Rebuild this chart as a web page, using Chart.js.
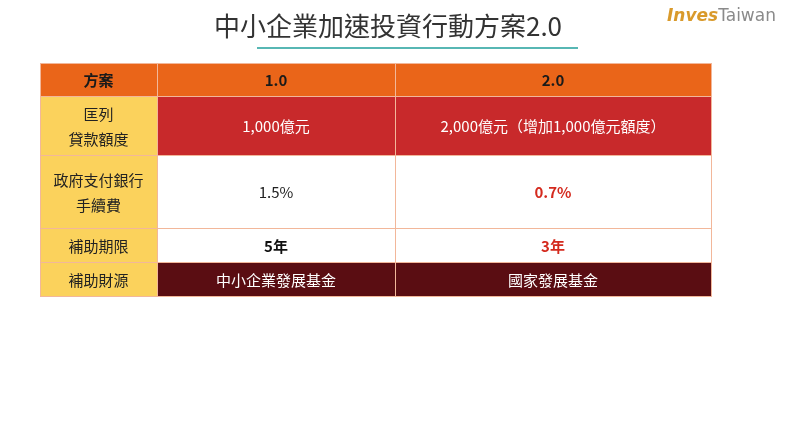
<!DOCTYPE html>
<html>
<head>
<meta charset="utf-8">
<script src="https://cdn.jsdelivr.net/npm/chart.js@4"></script>
<style>
  body { margin: 0; background: #fff; }
  #wrap { width: 800px; height: 431px; }
</style>
</head>
<body>
<div id="wrap"><canvas id="table"></canvas></div>
<script>
const title = "中小企業加速投資行動方案2.0";
const headers = ["方案", "1.0", "2.0"];
const rowLabels = [["匡列", "貸款額度"], ["政府支付銀行", "手續費"], ["補助期限"], ["補助財源"]];
const plan1 = ["1,000億元", "1.5%", "5年", "中小企業發展基金"];
const plan2 = ["2,000億元（增加1,000億元額度）", "0.7%", "3年", "國家發展基金"];

// table geometry in the chart's own coordinate units
const colEdges = [40, 157, 395, 711];
const rowEdges = [63, 96, 155, 228, 262, 296];

const font = "'Noto Sans CJK TC', 'Noto Sans', sans-serif";

// per-row styling: label bg, cell bg, text colours, bold
const rowStyle = [
  { bg: "#c8292b", c1: "#fff", c2: "#fff", bold: false },
  { bg: "#ffffff", c1: "#222", c2: "#d42a1e", bold: false, bold2: true },
  { bg: "#ffffff", c1: "#111", c2: "#d42a1e", bold: true, bold2: true },
  { bg: "#5a0d12", c1: "#fff", c2: "#fff", bold: false }
];

const tablePlugin = {
  id: "tablePlugin",
  afterDraw(chart) {
    const ctx = chart.ctx;
    const x = chart.scales.x, y = chart.scales.y;
    const px = (v) => x.getPixelForValue(v);
    const py = (v) => y.getPixelForValue(v);

    function cell(c, r, bg, lines, color, bold, size) {
      const x0 = px(colEdges[c]), x1 = px(colEdges[c + 1]);
      const y0 = py(rowEdges[r]), y1 = py(rowEdges[r + 1]);
      ctx.fillStyle = bg;
      ctx.fillRect(x0, y0, x1 - x0, y1 - y0);
      ctx.strokeStyle = "#f2b79a";
      ctx.lineWidth = 1;
      ctx.strokeRect(x0 + 0.5, y0 + 0.5, x1 - x0, y1 - y0);
      ctx.fillStyle = color;
      ctx.font = (bold ? "bold " : "") + size + "px " + font;
      ctx.textAlign = "center";
      ctx.textBaseline = "middle";
      const lh = 25;
      const cy = (y0 + y1) / 2 - (lines.length - 1) * lh / 2;
      lines.forEach((t, i) => ctx.fillText(t, (x0 + x1) / 2, cy + i * lh + 1));
    }

    ctx.save();
    headers.forEach((h, i) => cell(i, 0, "#ea6519", [h], "#1a1a1a", true, 15));
    rowLabels.forEach((lab, r) => {
      const s = rowStyle[r];
      cell(0, r + 1, "#fbd25c", lab, "#222", false, 15);
      cell(1, r + 1, s.bg, [plan1[r]], s.c1, s.bold, 15);
      cell(2, r + 1, s.bg, [plan2[r]], s.c2, s.bold2 || s.bold, 15);
    });

    // title
    ctx.fillStyle = "#333";
    ctx.font = "26px " + font;
    ctx.textAlign = "center";
    ctx.textBaseline = "middle";
    ctx.fillText(title, px(388), py(26));
    ctx.strokeStyle = "#57b7b4";
    ctx.lineWidth = 2;
    ctx.beginPath();
    ctx.moveTo(px(257), py(48));
    ctx.lineTo(px(578), py(48));
    ctx.stroke();

    // logo
    ctx.textAlign = "left";
    ctx.font = "bold italic 17px 'DejaVu Sans', sans-serif";
    ctx.fillStyle = "#d99a2b";
    ctx.fillText("Inves", px(667), py(17));
    const w = ctx.measureText("Inves").width;
    ctx.font = "17px 'DejaVu Sans', sans-serif";
    ctx.fillStyle = "#8a8a8a";
    ctx.fillText("Taiwan", px(667) + w, py(17));
    ctx.restore();
  }
};

new Chart(document.getElementById("table"), {
  type: "scatter",
  data: { datasets: [{ data: [] }] },
  options: {
    responsive: true,
    maintainAspectRatio: false,
    animation: false,
    layout: { padding: 0 },
    plugins: { legend: { display: false }, tooltip: { enabled: false } },
    scales: {
      x: { type: "linear", min: 0, max: 800, display: false },
      y: { type: "linear", min: 0, max: 431, reverse: true, display: false }
    }
  },
  plugins: [tablePlugin]
});
</script>
</body>
</html>
